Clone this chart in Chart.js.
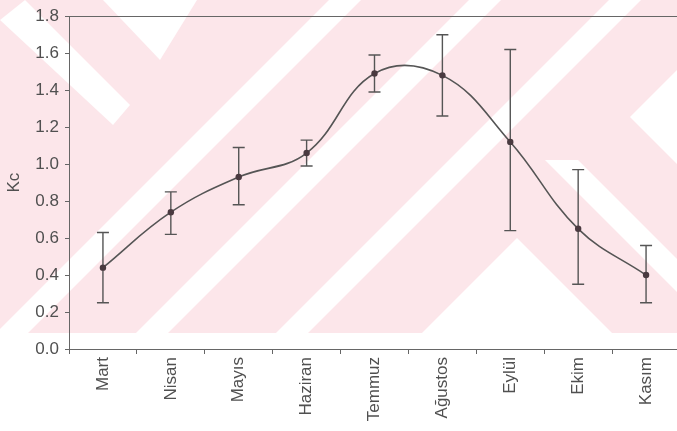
<!DOCTYPE html>
<html>
<head>
<meta charset="utf-8">
<script src="https://cdn.jsdelivr.net/npm/chart.js@4/dist/chart.umd.min.js"></script>
<style>
  html, body { margin: 0; padding: 0; overflow: hidden; background: #fff; }
  #wrap { width: 684px; height: 431px; position: relative; }
</style>
</head>
<body>
<div id="wrap"><canvas id="chart"></canvas></div>
<script>
// Monthly crop coefficient (Kc) with min/max ranges
const months = ['Mart', 'Nisan', 'Mayıs', 'Haziran', 'Temmuz', 'Ağustos', 'Eylül', 'Ekim', 'Kasım'];
const kcMean  = [0.44, 0.74, 0.93, 1.06, 1.49, 1.48, 1.12, 0.65, 0.40];
const kcUpper = [0.63, 0.85, 1.09, 1.13, 1.59, 1.70, 1.62, 0.97, 0.56];
const kcLower = [0.25, 0.62, 0.78, 0.99, 1.39, 1.26, 0.64, 0.35, 0.25];
const yTickValues = [0, 0.2, 0.4, 0.6, 0.8, 1.0, 1.2, 1.4, 1.6, 1.8];

const INK = '#505050';
const AXIS = '#666';
const FONT = 'Liberation Sans, Arial, sans-serif';

// Light diagonal backdrop painted behind the plot
const backdrop = {
  id: 'backdrop',
  beforeDraw(chart) {
    const ctx = chart.ctx;
    const W = chart.width, H = 333;
    ctx.save();
    ctx.fillStyle = '#fce6ea';
    ctx.fillRect(0, 0, W, H);
    ctx.fillStyle = '#ffffff';
    const poly = pts => { ctx.beginPath(); pts.forEach((p, i) => i ? ctx.lineTo(p[0], p[1]) : ctx.moveTo(p[0], p[1])); ctx.closePath(); ctx.fill(); };
    // rising stripes
    [12, 152, 292].forEach(xb => {
      const w = 32;
      poly([[xb - w / 2, H], [xb + w / 2, H], [xb + w / 2 + H, 0], [xb - w / 2 + H, 0]]);
    });
    // centre wedge
    poly([[517, 238], [612, H], [422, H]]);
    // falling stripe on the right
    poly([[545, 160], [578, 160], [751, H], [718, H]]);
    // right-hand notch
    poly([[630, 117], [684, 63], [684, 171]]);
    // upper-left shapes
    poly([[103, 0], [197, 0], [160, 60]]);
    poly([[0, 20], [25, 0], [130, 105], [113, 125]]);
    ctx.restore();
  }
};

// Range whiskers and the frame line along the top of the plot
const whiskers = {
  id: 'whiskers',
  beforeDatasetsDraw(chart) {
    const { ctx, scales: { x, y } } = chart;
    ctx.save();
    ctx.strokeStyle = '#555';
    ctx.lineWidth = 1.4;
    const cap = 6;
    months.forEach((m, i) => {
      const px = x.getPixelForValue(i);
      const yt = y.getPixelForValue(kcUpper[i]);
      const yb = y.getPixelForValue(kcLower[i]);
      ctx.beginPath();
      ctx.moveTo(px, yt); ctx.lineTo(px, yb);
      ctx.moveTo(px - cap, yt); ctx.lineTo(px + cap, yt);
      ctx.moveTo(px - cap, yb); ctx.lineTo(px + cap, yb);
      ctx.stroke();
    });
    ctx.restore();
  },
  afterDraw(chart) {
    const { ctx, chartArea: a } = chart;
    ctx.save();
    ctx.strokeStyle = AXIS;
    ctx.lineWidth = 1;
    ctx.beginPath();
    ctx.moveTo(a.left - 3, Math.round(a.top) + 0.5);
    ctx.lineTo(chart.width, Math.round(a.top) + 0.5);
    ctx.stroke();
    ctx.restore();
  }
};

new Chart(document.getElementById('chart'), {
  type: 'line',
  data: {
    labels: months,
    datasets: [{
      data: kcMean,
      borderColor: '#555',
      borderWidth: 1.6,
      tension: 0.4,
      pointRadius: 3.2,
      pointBackgroundColor: '#4a3a40',
      pointBorderColor: '#4a3a40',
      pointBorderWidth: 0,
      fill: false
    }]
  },
  options: {
    responsive: true,
    maintainAspectRatio: false,
    animation: false,
    devicePixelRatio: 1,
    layout: { padding: { top: 13, right: 0, bottom: 0, left: 0 } },
    plugins: { legend: { display: false }, tooltip: { enabled: false } },
    scales: {
      x: {
        type: 'category',
        offset: true,
        grid: { offset: true, drawOnChartArea: false, tickLength: 5, color: AXIS, tickColor: AXIS },
        border: { color: AXIS, width: 1 },
        ticks: {
          autoSkip: false, minRotation: 90, maxRotation: 90, padding: 3,
          color: INK, font: { family: FONT, size: 17 }
        },
        afterFit(s) { s.height = 82; s.paddingRight = 0; s.paddingLeft = 0; }
      },
      y: {
        min: 0, max: 1.8,
        afterBuildTicks(s) { s.ticks = yTickValues.map(v => ({ value: v })); },
        ticks: {
          callback: v => Number(v).toFixed(1),
          color: INK, padding: 6,
          font: { family: FONT, size: 17 }
        },
        grid: { drawOnChartArea: false, tickLength: 4, color: AXIS, tickColor: AXIS },
        border: { color: AXIS, width: 1 },
        title: {
          display: true, text: 'Kc', color: INK,
          font: { family: FONT, size: 17 }, padding: { top: 4, bottom: 0 }
        },
        afterFit(s) { s.width = 69; }
      }
    }
  },
  plugins: [backdrop, whiskers]
});
</script>
</body>
</html>
